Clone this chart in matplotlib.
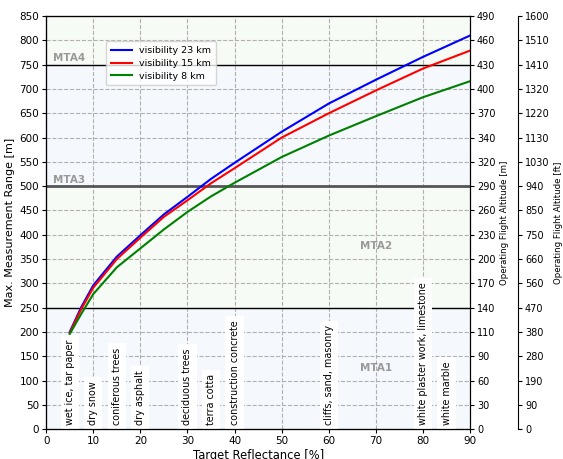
"""Maximum measurement range versus target reflectance for three visibilities."""
import matplotlib.pyplot as plt

# Ranges
reflectance = [5, 7.5, 10, 15, 20, 25, 30, 35, 40, 50, 60, 70, 80, 90]
range_23km = [200, 252, 296, 355, 399, 442, 478, 515, 548, 612, 670, 719, 766, 810]
range_15km = [198, 248, 291, 350, 394, 437, 471, 506, 537, 600, 650, 697, 742, 779]
range_8km = [196, 238, 278, 333, 372, 411, 447, 479, 507, 560, 604, 644, 683, 716]

range_ticks = list(range(0, 851, 50))
altitude_m = [0, 30, 60, 90, 110, 140, 170, 200, 230, 260, 290, 320,
              340, 370, 400, 430, 460, 490]
altitude_ft = [0, 90, 190, 280, 380, 470, 560, 660, 750, 850, 940, 1030,
               1130, 1220, 1320, 1410, 1510, 1600]

materials = ["wet ice, tar paper", "dry snow", "coniferous trees", "dry asphalt",
             "deciduous trees", "terra cotta", "construction concrete",
             "cliffs, sand, masonry", "white plaster work, limestone", "white marble"]
material_x = [5, 10, 15, 20, 30, 35, 40, 60, 80, 85]

mta_names = ["MTA1", "MTA2", "MTA3", "MTA4"]
mta_bounds = [0, 250, 500, 750, 850]

fig, ax = plt.subplots(figsize=(5.63, 4.59), dpi=100)
fig.subplots_adjust(left=0.082, right=0.835, top=0.965, bottom=0.065)

band_colors = ["#f5f9fe", "#f7fbf5", "#f5f9fe", "#f7fbf5"]
for lo, hi, c in zip(mta_bounds[:-1], mta_bounds[1:], band_colors):
    ax.axhspan(lo, hi, color=c, zorder=0)
ax.axhline(250, color="black", lw=1, zorder=2)
ax.axhline(500, color="#555555", lw=2, zorder=2)
ax.axhline(750, color="black", lw=1, zorder=2)

ax.plot(reflectance, range_23km, color="blue", lw=1.5, label="visibility 23 km", zorder=4)
ax.plot(reflectance, range_15km, color="red", lw=1.5, label="visibility 15 km", zorder=4)
ax.plot(reflectance, range_8km, color="green", lw=1.5, label="visibility 8 km", zorder=4)

# MTA zone labels
mta_style = dict(color="#999999", fontweight="bold", fontsize=7.5, zorder=3)
ax.text(70, 125, mta_names[0], ha="center", va="center", **mta_style)
ax.text(70, 377, mta_names[1], ha="center", va="center", **mta_style)
ax.text(1.5, 503, mta_names[2], ha="left", va="bottom", **mta_style)
ax.text(1.5, 753, mta_names[3], ha="left", va="bottom", **mta_style)

for name, x in zip(materials, material_x):
    ax.text(x, 9, name, rotation=90, ha="center", va="bottom", fontsize=6.9,
            zorder=5, bbox=dict(facecolor="white", edgecolor="none", pad=3))

ax.set_xlim(0, 90)
ax.set_ylim(0, 850)
ax.set_xticks(range(0, 91, 10))
ax.set_yticks(range_ticks)
ax.grid(True, ls="--", color="#b0b0b0", lw=0.8, zorder=1)
ax.set_axisbelow(True)
ax.tick_params(labelsize=7.5, length=3, pad=2)
ax.set_xlabel("Target Reflectance [%]", fontsize=8.3, labelpad=2)
ax.set_ylabel("Max. Measurement Range [m]", fontsize=8, labelpad=3)
ax.legend(loc="upper left", bbox_to_anchor=(0.13, 0.95), fontsize=6.8,
          framealpha=0.8, handlelength=2.2, borderpad=0.5, labelspacing=0.4)

ax_m = ax.twinx()
ax_m.set_ylim(0, 850)
ax_m.set_yticks(range_ticks)
ax_m.set_yticklabels([str(v) for v in altitude_m])
ax_m.tick_params(labelsize=7, length=3, pad=2)
ax_m.set_ylabel("Operating Flight Altitude [m]", fontsize=6.2, labelpad=3)

ax_ft = ax.twinx()
ax_ft.spines["right"].set_position(("axes", 1.113))
ax_ft.set_ylim(0, 850)
ax_ft.set_yticks(range_ticks)
ax_ft.set_yticklabels([str(v) for v in altitude_ft])
ax_ft.tick_params(labelsize=7, length=3, pad=2)
ax_ft.set_ylabel("Operating Flight Altitude [ft]", fontsize=6.2, labelpad=3)

fig.savefig("out.png", dpi=100)
